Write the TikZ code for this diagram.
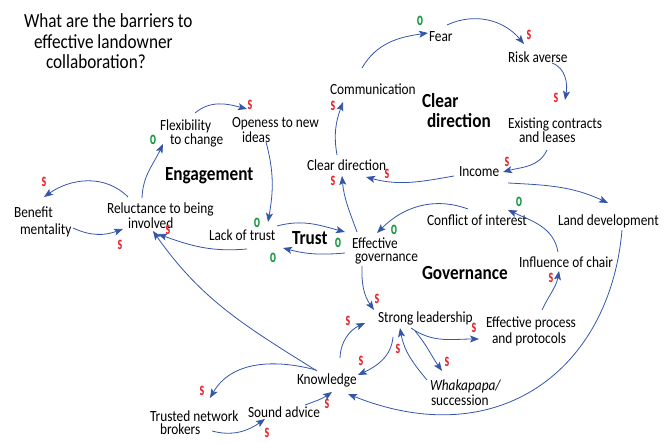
\documentclass[tikz,border=0pt]{standalone}
\usepackage{fontspec}
\setmainfont{Carlito}[FakeStretch=0.86]
\newfontfamily\polfam{Carlito}[FakeStretch=0.62]
\usetikzlibrary{arrows.meta}
\definecolor{linec}{RGB}{52,86,170}
\definecolor{sred}{RGB}{232,36,42}
\definecolor{ogreen}{RGB}{24,152,62}
\newcommand\tightlines{\lineskiplimit-30pt\lineskip0pt\relax}
\newcommand\txtfont{\fontsize{15.5}{14}\selectfont\tightlines}
\newcommand\boldfont{\fontsize{20}{20}\selectfont\bfseries\tightlines}
\newcommand\titlefont{\fontsize{20}{20.5}\selectfont\tightlines}
\newcommand\polfont{\polfam\fontsize{19}{19}\selectfont\bfseries}
\begin{document}
\begin{tikzpicture}[x=1pt,y=1pt,
  txt/.style={anchor=base west,inner sep=0pt,outer sep=0pt,align=left,font=\txtfont},
  boldlbl/.style={anchor=base west,inner sep=0pt,outer sep=0pt,align=left,font=\boldfont},
  titlelbl/.style={anchor=base west,inner sep=0pt,outer sep=0pt,align=left,font=\titlefont},
  arr/.style={draw=linec,line width=0.8pt,-{Stealth[length=9pt,width=7pt,inset=2pt]}},
  pol/.style={inner sep=0pt,font=\polfont},
  sp/.style={pol,text=sred},
  op/.style={pol,text=ogreen}]
\useasboundingbox (0,0) rectangle (672,443);

% title (base = last line)
\node[titlelbl] (title) at (24,374) {What are the barriers to\\\hspace*{10pt}effective landowner\\\hspace*{22pt}collaboration?};

% nodes (base west = baseline of last line)
\node[txt] (fear) at (429,401) {Fear};
\node[txt] (risk) at (508,380) {Risk averse};
\node[txt] (exist) at (508,300) {Existing contracts\\\hspace*{11pt}and leases};
\node[txt] (income) at (459,266) {Income};
\node[txt] (cdir) at (307,272) {Clear direction};
\node[txt] (comm) at (330,348) {Communication};
\node[boldlbl] (cdlbl) at (422,315) {Clear\\\hspace*{5pt}direction};
\node[txt] (flex) at (160,298) {Flexibility\\\hspace*{10pt}to change};
\node[txt] (open) at (232,300) {Openess to new\\[1pt]\hspace*{10pt}ideas};
\node[boldlbl] (engage) at (165,262) {Engagement};
\node[txt] (lack) at (209,202) {Lack of trust};
\node[boldlbl] (trustlbl) at (292,198) {Trust};
\node[txt] (effgov) at (352,181) {Effective\\[-1pt]\hspace*{3pt}governance};
\node[txt] (reluct) at (107,214) {Reluctance to being\\[1pt]\hspace*{21pt}involved};
\node[txt] (benefit) at (14,208) {Benefit\\[3pt]\hspace*{6pt}mentality};
\node[txt] (conflict) at (427,217) {Conflict of interest};
\node[txt] (landdev) at (558,217) {Land development};
\node[boldlbl] (govlbl) at (422,163) {Governance};
\node[txt] (influence) at (519,175) {Influence of chair};
\node[txt] (strong) at (378,120) {Strong leadership};
\node[txt] (effproc) at (486,99) {Effective process\\[2pt]\hspace*{6pt}and protocols};
\node[txt] (whaka) at (430,37) {{\itshape Whakapapa/}\\[1pt]\hspace*{1pt}succession};
\node[txt] (know) at (297,58) {Knowledge};
\node[txt] (sound) at (248,25) {Sound advice};
\node[txt] (trusted) at (150,8) {Trusted network\\[-1pt]\hspace*{10pt}brokers};

% connectors
\draw[arr] ([shift={(32,27)}]comm.base west) to[out=60,in=188] ([shift={(-1,9)}]fear.base west);
\draw[arr] ([shift={(18,17)}]fear.base west) to[out=25,in=130] ([shift={(16,19)}]risk.base west);
\draw[arr] ([shift={(44,0)}]risk.base west) to[out=-20,in=80] ([shift={(57,43)}]exist.base west);
\draw[arr] ([shift={(39,-7)}]exist.base west) to[out=-115,in=15] ([shift={(44,5)}]income.base west);
\draw[arr] ([shift={(-5,1)}]income.base west) to[out=190,in=-15] ([shift={(59,-6)}]cdir.base west);
\draw[arr] ([shift={(30,16)}]cdir.base west) to[out=100,in=-110] ([shift={(13,-7)}]comm.base west);
\draw[arr] ([shift={(49,-6)}]income.base west) to[out=-3,in=155] ([shift={(50,23)}]landdev.base west);
\draw[arr] ([shift={(64,-4)}]landdev.base west) .. controls +(-12,-140) and +(150,-60) .. ([shift={(51,-9)}]know.base west);
\draw[arr] ([shift={(5,30)}]effgov.base west) to[out=110,in=-85] ([shift={(35,-5)}]cdir.base west);
\draw[arr] ([shift={(41,17)}]conflict.base west) to[out=160,in=45] ([shift={(25,29)}]effgov.base west);
\draw[arr] ([shift={(39,16)}]influence.base west) to[out=100,in=-25] ([shift={(81,16)}]conflict.base west);
\draw[arr] ([shift={(56,34)}]effproc.base west) to[out=65,in=-100] ([shift={(40,-3)}]influence.base west);
\draw[arr] ([shift={(33,-5)}]strong.base west) to[out=-35,in=180] ([shift={(-7,5)}]effproc.base west);
\draw[arr] ([shift={(37,-8)}]strong.base west) to[out=-50,in=125] ([shift={(12,35)}]whaka.base west);
\draw[arr] ([shift={(-3,26)}]whaka.base west) to[out=130,in=-80] ([shift={(22,-5)}]strong.base west);
\draw[arr] ([shift={(15,-14)}]strong.base west) to[out=-95,in=25] ([shift={(61,10)}]know.base west);
\draw[arr] ([shift={(43,27)}]know.base west) to[out=88,in=205] ([shift={(-13,0)}]strong.base west);
\draw[arr] ([shift={(10,-4)}]effgov.base west) to[out=-92,in=125] ([shift={(-4,13)}]strong.base west);
\draw[arr] ([shift={(19,15)}]know.base west) to[out=165,in=60] ([shift={(60,37)}]trusted.base west);
\draw[arr] ([shift={(62,4)}]trusted.base west) to[out=-15,in=215] ([shift={(17,-1)}]sound.base west);
\draw[arr] ([shift={(57,13)}]sound.base west) to[out=20,in=215] ([shift={(35,-7)}]know.base west);
\draw[arr] ([shift={(20,14)}]know.base west) to[out=148,in=-55] ([shift={(46,-2)}]reluct.base west);
\draw[arr] ([shift={(38,-8)}]lack.base west) to[out=185,in=-20] ([shift={(51,-5)}]reluct.base west);
\draw[arr] ([shift={(21,32)}]reluct.base west) to[out=135,in=35] ([shift={(30,38)}]benefit.base west);
\draw[arr] ([shift={(59,7)}]benefit.base west) to[out=-25,in=200] ([shift={(16,0)}]reluct.base west);
\draw[arr] ([shift={(35,31)}]reluct.base west) to[out=88,in=-115] ([shift={(3,1)}]flex.base west);
\draw[arr] ([shift={(35,32)}]flex.base west) to[out=40,in=165] ([shift={(15,34)}]open.base west);
\draw[arr] ([shift={(34,1)}]open.base west) to[out=-75,in=80] ([shift={(59,19)}]lack.base west);
\draw[arr] ([shift={(68,15)}]lack.base west) to[out=15,in=165] ([shift={(-7,30)}]effgov.base west);
\draw[arr] ([shift={(-7,9)}]effgov.base west) to[out=185,in=-15] ([shift={(74,-7)}]lack.base west);

% polarity labels
\node[sp] (p1) at (529,408) {s};
\node[sp] (p2) at (556,345) {s};
\node[sp] (p3) at (507,281) {s};
\node[sp] (p4) at (387,269) {s};
\node[sp] (p5) at (333,337) {s};
\node[sp] (p6) at (333,262) {s};
\node[sp] (p7) at (551,165) {s};
\node[sp] (p8) at (474,115) {s};
\node[sp] (p9) at (447,81) {s};
\node[sp] (p10) at (398,94) {s};
\node[sp] (p11) at (361,82) {s};
\node[sp] (p12) at (348,122) {s};
\node[sp] (p13) at (377,144) {s};
\node[sp] (p14) at (202,52) {s};
\node[sp] (p15) at (267,10) {s};
\node[sp] (p16) at (327,39) {s};
\node[sp] (p17) at (168,213) {s};
\node[sp] (p18) at (44,261) {s};
\node[sp] (p19) at (120,198) {s};
\node[sp] (p20) at (250,338) {s};
\node[op] (n1) at (420,422) {o};
\node[op] (n2) at (394,213) {o};
\node[op] (n3) at (519,241) {o};
\node[op] (n4) at (153,303) {o};
\node[op] (n5) at (257,220) {o};
\node[op] (n6) at (338,200) {o};
\node[op] (n7) at (273,185) {o};
\end{tikzpicture}
\end{document}
